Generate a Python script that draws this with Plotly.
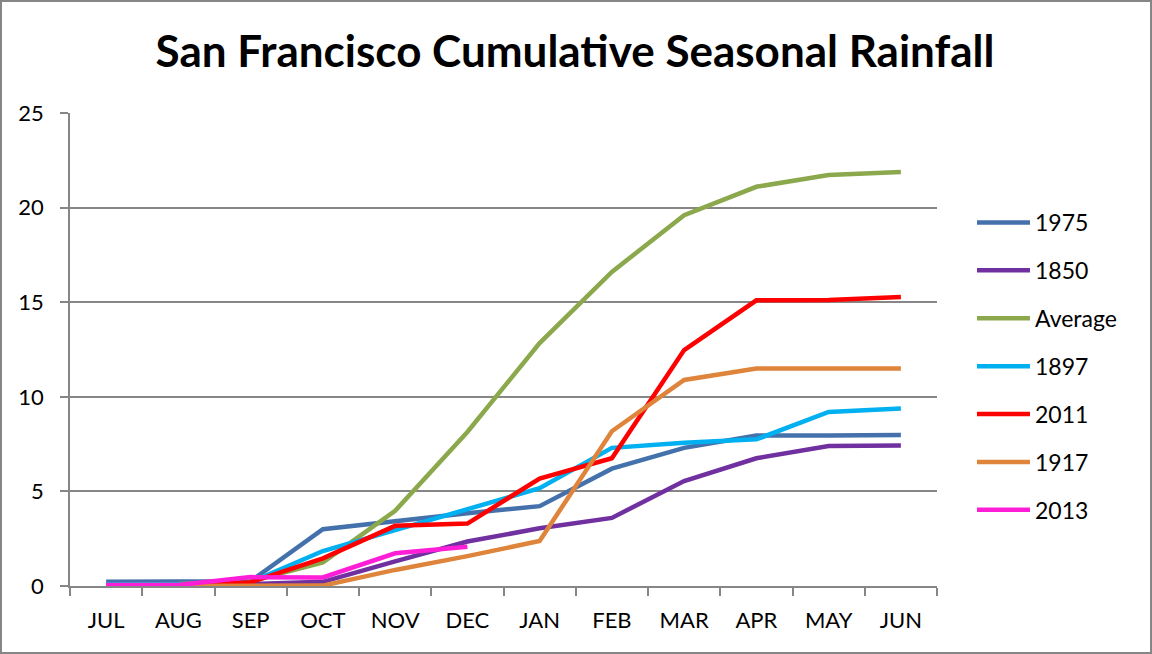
import plotly.graph_objects as go

months = ["JUL", "AUG", "SEP", "OCT", "NOV", "DEC", "JAN", "FEB", "MAR", "APR", "MAY", "JUN"]

s1975 = [0.22, 0.22, 0.25, 3.0, 3.45, 3.85, 4.22, 6.2, 7.3, 7.95, 7.95, 7.98]
s1850 = [0.0, 0.0, 0.1, 0.22, 1.3, 2.35, 3.05, 3.6, 5.55, 6.75, 7.4, 7.42]
s_avg = [0.05, 0.1, 0.25, 1.25, 3.97, 8.14, 12.84, 16.6, 19.6, 21.1, 21.72, 21.88]
s1897 = [0.08, 0.08, 0.2, 1.85, 2.95, 4.05, 5.17, 7.3, 7.57, 7.75, 9.2, 9.38]
s2011 = [0.02, 0.02, 0.2, 1.46, 3.18, 3.3, 5.68, 6.75, 12.47, 15.1, 15.12, 15.27]
s1917 = [0.0, 0.0, 0.0, 0.02, 0.85, 1.58, 2.38, 8.18, 10.89, 11.5, 11.5, 11.5]
s2013 = [0.05, 0.05, 0.47, 0.45, 1.73, 2.08]

series = [
    ("1975", s1975, "#4471AB"),
    ("1850", s1850, "#7030A0"),
    ("Average", s_avg, "#8BA84D"),
    ("1897", s1897, "#00B0F0"),
    ("2011", s2011, "#FF0000"),
    ("1917", s1917, "#DF843B"),
    ("2013", s2013, "#FF1ED8"),
]

FONT = "Lato"

fig = go.Figure()
for name, vals, color in series:
    fig.add_trace(go.Scatter(
        x=months[:len(vals)], y=vals, name=name, mode="lines",
        line=dict(color=color, width=4.5),
        legendgroup=name,
    ))

W, H = 1152, 654
L, R, T, B = 70, 215, 113, 68
pw = W - L - R
ph = H - T - B

fig.update_layout(
    width=W, height=H,
    margin=dict(l=L, r=R, t=T, b=B),
    paper_bgcolor="white", plot_bgcolor="white",
    font=dict(family=FONT, color="black", size=22),
    title=dict(
        text="<b>San Francisco Cumulative Seasonal Rainfall</b>",
        x=575 / W, xanchor="center", y=1 - 52 / H, yanchor="middle",
        font=dict(family=FONT, size=44, color="black"),
    ),
    showlegend=True,
    legend=dict(
        x=(972 - L) / pw, xanchor="left",
        y=(H - B - 201) / ph, yanchor="top",
        font=dict(family=FONT, size=23, color="black"),
        tracegroupgap=15,
        bgcolor="rgba(0,0,0,0)",
        itemwidth=53,
    ),
    xaxis=dict(
        type="category", categoryorder="array", categoryarray=months,
        range=[-0.5, 11.5],
        showgrid=False, showline=True, linecolor="#868686", linewidth=1.5,
        ticks="outside", tickson="boundaries", ticklen=8, tickcolor="#868686", tickwidth=1.5,
        tickfont=dict(family=FONT, size=22, color="black"),
        ticklabelstandoff=14,
        zeroline=False,
    ),
    yaxis=dict(
        range=[0, 25], dtick=5, tick0=0,
        showgrid=True, gridcolor="#868686", gridwidth=1.5,
        showline=True, linecolor="#868686", linewidth=1.5,
        ticks="outside", ticklen=8, tickcolor="#868686", tickwidth=1.5,
        tickfont=dict(family=FONT, size=22, color="black"),
        ticklabelstandoff=12,
        zeroline=False,
    ),
    shapes=[dict(
        type="rect", xref="paper", yref="paper",
        x0=-(L - 1) / pw, x1=(W - L - 1) / pw,
        y0=-(B - 1) / ph, y1=(H - B - 1) / ph,
        line=dict(color="#868686", width=2), layer="below",
    )],
)

fig.write_html(
    "out.html",
    config={"displayModeBar": False},
    post_script="document.body.style.margin='0';document.body.style.overflow='hidden';",
)
